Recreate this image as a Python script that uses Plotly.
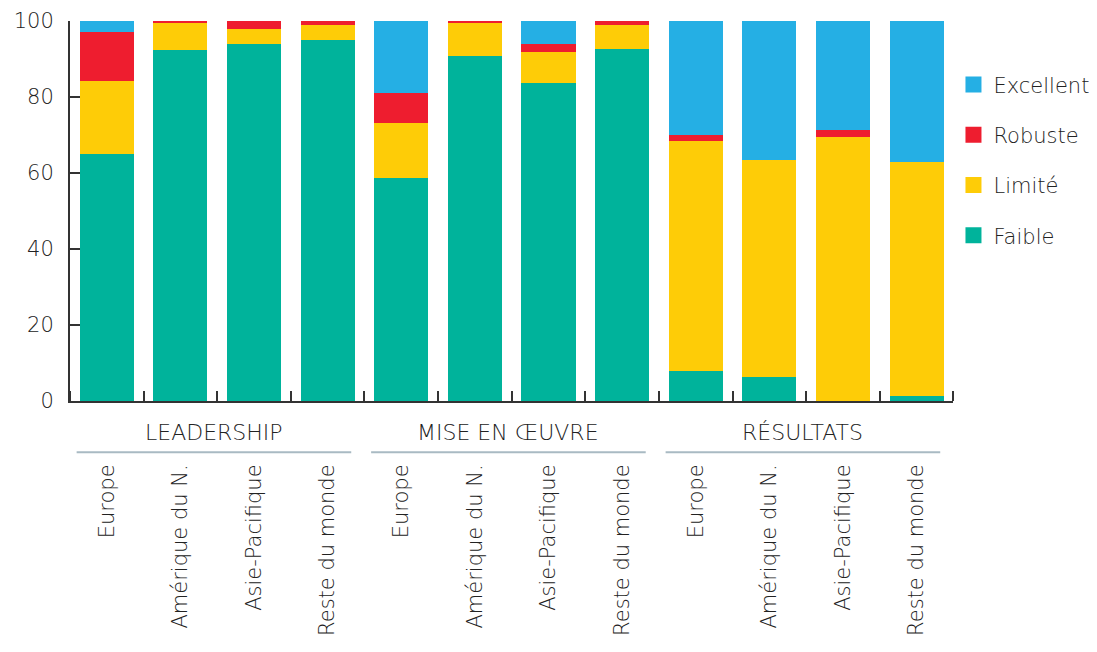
import plotly.graph_objects as go

groups = ["LEADERSHIP", "MISE EN ŒUVRE", "RÉSULTATS"]
regions = ["Europe", "Amérique du N.", "Asie-Pacifique", "Reste du monde"]

faible = [65.0, 92.4, 94.0, 95.0, 58.7, 90.8, 83.7, 92.6, 7.9, 6.3, 0.0, 1.3]
limite = [19.2, 7.1, 3.9, 4.0, 14.5, 8.7, 8.1, 6.3, 60.5, 57.1, 69.5, 61.6]
robuste = [12.8, 0.5, 2.1, 1.0, 7.8, 0.5, 2.2, 1.1, 1.6, 0.0, 1.8, 0.0]
excellent = [3.0, 0.0, 0.0, 0.0, 19.0, 0.0, 6.1, 0.0, 30.0, 36.6, 28.7, 37.1]

series = [("Faible", faible, "#00B39B"),
          ("Limité", limite, "#FECC07"),
          ("Robuste", robuste, "#EE1D2F"),
          ("Excellent", excellent, "#25AFE4")]

n = len(groups) * len(regions)
xs = list(range(n))
labels = [r for g in groups for r in regions]

FONT = "DejaVu Sans"
W = 300
TXT = "#222222"

fig = go.Figure()
for name, vals, col in series:
    fig.add_trace(go.Bar(x=xs, y=vals, name=name, marker=dict(color=col, line=dict(width=0)),
                         width=0.735, showlegend=False))
for name, vals, col in reversed(series):
    fig.add_trace(go.Scatter(x=[None], y=[None], mode="markers", name=name, legendgroup=name,
                             marker=dict(symbol="square", size=18, color=col)))

for gi, g in enumerate(groups):
    base = gi * len(regions)
    fig.add_shape(type="line", xref="x", yref="paper", x0=base - 0.41, x1=base + 3.32,
                  y0=-0.135, y1=-0.135, line=dict(color="#A9BAC3", width=2))
    fig.add_annotation(x=base + 1.45, y=-0.045, xref="x", yref="paper", text=g, showarrow=False,
                       yanchor="top", font=dict(family=FONT, size=22, color=TXT, weight=W))

fig.update_layout(
    width=1089, height=644,
    margin=dict(l=62, r=143, t=13, b=251),
    barmode="stack", bargap=0.27,
    plot_bgcolor="white", paper_bgcolor="white",
    font=dict(family=FONT, color=TXT, weight=W),
    legend=dict(xref="container", yref="container", x=0.8682, y=0.9126,
                xanchor="left", yanchor="top", traceorder="grouped",
                tracegroupgap=20, font=dict(family=FONT, size=21, color=TXT, weight=W),
                bgcolor="rgba(0,0,0,0)"),
    xaxis=dict(range=[-0.5, n - 0.5], tickmode="array", tickvals=xs, ticktext=labels,
               tickangle=-90, ticks="", showgrid=False, zeroline=False, automargin=False,
               showline=True, linecolor="#333333", linewidth=2, layer="below traces",
               ticklabelstandoff=53,
               tickfont=dict(family=FONT, size=21, color=TXT, weight=W),
               minor=dict(tickmode="linear", tick0=-0.5, dtick=1, ticks="inside",
                          ticklen=10, tickcolor="#333333", tickwidth=2, showgrid=False)),
    yaxis=dict(range=[0, 100], tickvals=[0, 20, 40, 60, 80, 100], ticks="inside",
               ticklen=22, tickcolor="#333333", tickwidth=2, showgrid=False, zeroline=False,
               automargin=False, ticklabelstandoff=10,
               showline=True, linecolor="#333333", linewidth=2, layer="below traces",
               tickfont=dict(family=FONT, size=21, color=TXT, weight=W)),
)

fig.write_html("out.html")
